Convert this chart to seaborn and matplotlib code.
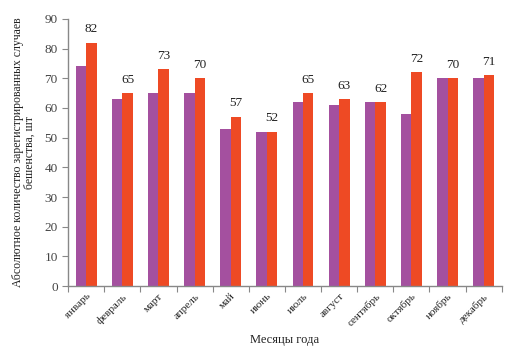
import numpy as np
import pandas as pd
import matplotlib
matplotlib.use('Agg')
import matplotlib.pyplot as plt
import seaborn as sns

months = ['январь', 'февраль', 'март', 'апрель', 'май', 'июнь',
          'июль', 'август', 'сентябрь', 'октябрь', 'ноябрь', 'декабрь']
series_a = [74, 63, 65, 65, 53, 52, 62, 61, 62, 58, 70, 70]
series_b = [82, 65, 73, 70, 57, 52, 65, 63, 62, 72, 70, 71]

df = pd.DataFrame({
    'month': months * 2,
    'value': series_a + series_b,
    'series': ['a'] * 12 + ['b'] * 12,
})

sns.set_style('white')
plt.rcParams['font.family'] = ['Liberation Serif', 'DejaVu Serif']

fig = plt.figure(figsize=(5.12, 3.58), dpi=100)
ax = fig.add_axes([0.133, 0.201, 0.847, 0.746])

sns.barplot(data=df, x='month', y='value', hue='series',
            palette=['#A4509F', '#EE4A24'], width=0.58, gap=0,
            saturation=1, legend=False, linewidth=0, ax=ax)

# labels above the second series
for bar, v in zip(ax.containers[1], series_b):
    ax.text(bar.get_x() + bar.get_width() / 2, v + 2.5, str(v),
            ha='center', va='bottom', fontsize=9.5, color='#222222')

ax.set_ylim(0, 90)
ax.set_yticks(range(0, 91, 10))
ax.set_xlim(-0.5, 11.5)
ax.set_xticks(np.arange(-0.5, 12, 1), minor=False)
ax.set_xticklabels([])
ax.set_xticks(range(12), minor=True)
ax.set_xticklabels(months, minor=True, rotation=45, ha='right',
                   rotation_mode='anchor', fontsize=8)
ax.tick_params(axis='x', which='major', length=4, color='#888888', direction='out', bottom=True)
ax.tick_params(axis='x', which='minor', length=0, pad=4)
ax.tick_params(axis='y', length=4, color='#888888', direction='out', left=True,
               labelsize=9.5, labelcolor='#444444')

for s in ['top', 'right']:
    ax.spines[s].set_visible(False)
for s in ['left', 'bottom']:
    ax.spines[s].set_color('#888888')
    ax.spines[s].set_linewidth(1)

ax.set_xlabel('Месяцы года', fontsize=9, color='#222222', labelpad=4)
ax.set_ylabel('Абсолютное количество зарегистрированных случаев\nбешенства, шт',
              fontsize=8.5, color='#222222', labelpad=6, linespacing=1.0)

fig.savefig('out.png', dpi=100)
